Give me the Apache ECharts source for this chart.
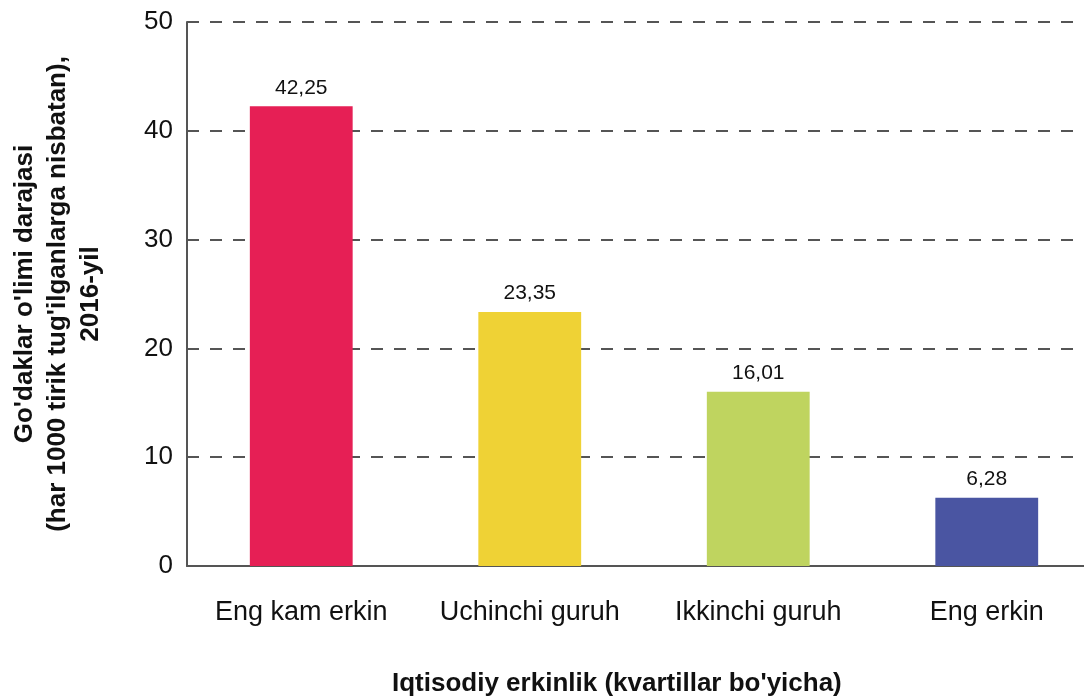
<!DOCTYPE html>
<html>
<head>
<meta charset="utf-8">
<script src="https://cdn.jsdelivr.net/npm/echarts@6/dist/echarts.min.js"></script>
<style>
  html, body { margin: 0; padding: 0; background: #fff; }
  #main { width: 1084px; height: 696px; }
</style>
</head>
<body>
<div id="main"></div>
<script>
// kvartillar
const categories = ['Eng kam erkin', 'Uchinchi guruh', 'Ikkinchi guruh', 'Eng erkin'];
// go'daklar o'limi, 1000 tirik tug'ilganga
const values = [42.25, 23.35, 16.01, 6.28];
const barColors = ['#E61F55', '#EFD235', '#BFD45F', '#4A55A2'];
const yTicks = [0, 10, 20, 30, 40, 50];

const font = '"Liberation Sans", Arial, Helvetica, sans-serif';
const chart = echarts.init(document.getElementById('main'));

const option = {
    animation: false,
    textStyle: { fontFamily: font },
    grid: { left: 187, right: -17, top: 22, bottom: 130, containLabel: false, outerBoundsMode: 'none' },
    xAxis: {
        type: 'category',
        data: categories,
        axisLine: { lineStyle: { color: '#555', width: 2 } },
        axisTick: { show: false },
        axisLabel: { color: '#111', fontSize: 27, margin: 33, interval: 0, hideOverlap: false, fontFamily: font }
    },
    yAxis: {
        type: 'value',
        min: yTicks[0],
        max: yTicks[yTicks.length - 1],
        interval: 10,
        name: "Go'daklar o'limi darajasi\n(har 1000 tirik tug'ilganlarga nisbatan),\n2016-yil",
        nameLocation: 'middle',
        nameRotate: 90,
        nameGap: 80,
        nameTextStyle: { color: '#111', fontSize: 26, fontWeight: 'bold', lineHeight: 33, fontFamily: font },
        axisLine: { show: true, lineStyle: { color: '#555', width: 2 } },
        axisTick: { show: true, inside: true, length: 5, lineStyle: { color: '#555', width: 2 } },
        axisLabel: { color: '#111', fontSize: 26, margin: 14, padding: [4, 0, 0, 0], fontFamily: font },
        splitLine: { lineStyle: { color: '#555', width: 2, type: [12, 11] } }
    },
    series: [{
        type: 'bar',
        data: values.map((v, i) => ({ value: v, itemStyle: { color: barColors[i] } })),
        barWidth: '45%',
        label: {
            show: true,
            position: 'top',
            distance: 8,
            color: '#111',
            fontSize: 21,
            fontFamily: font,
            formatter: p => p.value.toFixed(2).replace('.', ',')
        }
    }],
    graphic: [{
        type: 'text',
        left: 392,
        top: 671,
        style: {
            text: "Iqtisodiy erkinlik (kvartillar bo'yicha)",
            font: 'bold 26px ' + font,
            fill: '#111'
        }
    }]
};

chart.setOption(option);
</script>
</body>
</html>
